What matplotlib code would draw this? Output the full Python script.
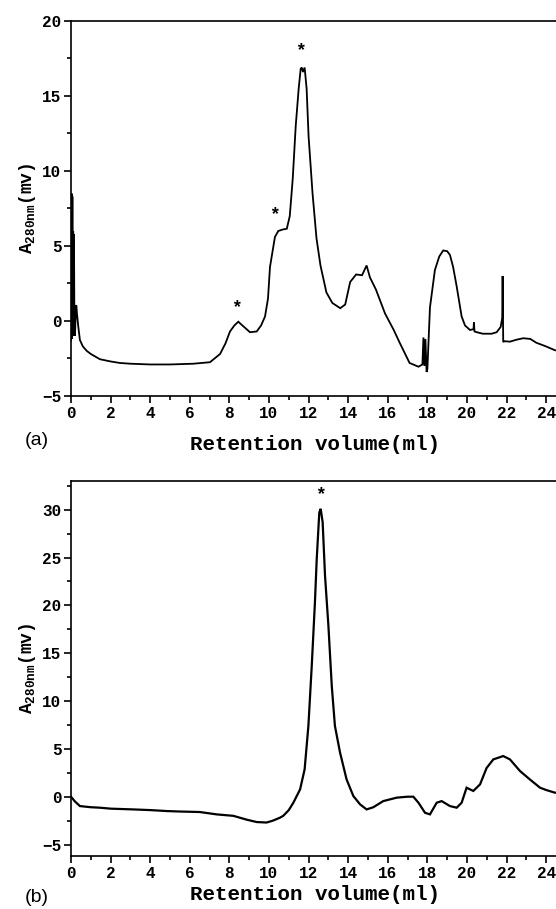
import numpy as np
import matplotlib
matplotlib.use('Agg')
import matplotlib.pyplot as plt
from matplotlib.ticker import MultipleLocator

# --- 字体设置 ---
plt.rcParams['font.family'] = ['Liberation Mono', 'DejaVu Sans']
plt.rcParams['mathtext.default'] = 'regular'

# --- 数据 (a) ---
vol_a = [0.0, 0.03, 0.05, 0.07, 0.09, 0.11, 0.13, 0.15, 0.17, 0.2, 0.25, 0.27, 0.3, 0.37,
         0.45, 0.6, 0.8, 1.0, 1.46, 2.0, 2.47, 3.0, 4.0, 5.0, 6.18, 6.6, 7.02, 7.53,
         7.8, 8.03, 8.25, 8.45, 8.7, 9.04, 9.38, 9.6, 9.8, 9.95, 10.05, 10.2, 10.3,
         10.47, 10.7, 10.9, 11.05, 11.2, 11.35, 11.5, 11.6, 11.65, 11.72, 11.8, 11.9,
         12.0, 12.2, 12.4, 12.6, 12.9, 13.2, 13.6, 13.85, 14.1, 14.4, 14.7, 14.93,
         15.1, 15.4, 15.86, 16.3, 16.6, 17.1, 17.55, 17.75, 17.8, 17.85, 17.9, 17.96,
         18.0, 18.13, 18.38, 18.6, 18.8, 19.0, 19.14, 19.3, 19.48, 19.73, 19.9, 20.15,
         20.33, 20.35, 20.38, 20.5, 20.8, 21.25, 21.5, 21.7, 21.78, 21.8, 21.83, 21.9,
         22.17, 22.5, 22.85, 23.2, 23.5, 24.0, 24.44, 24.7]
abs_a = [-1.3, 8.5, -1.2, 8.3, -1.0, 6.0, -0.5, 5.8, 0.3, -1.0, 1.0, 1.05, 0.5, -0.4,
         -1.27, -1.7, -2.0, -2.2, -2.55, -2.7, -2.8, -2.85, -2.9, -2.9, -2.85, -2.8,
         -2.75, -2.2, -1.5, -0.7, -0.3, -0.05, -0.35, -0.75, -0.7, -0.3, 0.3, 1.5,
         3.6, 4.8, 5.6, 6.0, 6.1, 6.15, 7.0, 9.5, 13.0, 15.5, 16.8, 16.9, 16.6, 16.9,
         15.5, 12.3, 8.5, 5.5, 3.7, 1.9, 1.2, 0.85, 1.1, 2.6, 3.1, 3.05, 3.7, 2.9, 2.1,
         0.5, -0.6, -1.45, -2.8, -3.05, -2.9, -1.1, -3.0, -1.2, -3.4, -3.2, 0.9, 3.4,
         4.3, 4.7, 4.65, 4.4, 3.6, 2.3, 0.3, -0.3, -0.6, -0.55, -0.1, -0.7, -0.75,
         -0.85, -0.85, -0.75, -0.4, 0.2, 3.0, -1.4, -1.35, -1.38, -1.25, -1.15, -1.2,
         -1.45, -1.7, -1.95, -2.0]

# --- 数据 (b) ---
vol_b = [0.0, 0.2, 0.45, 1.0, 1.46, 2.0, 3.15, 4.0, 4.83, 5.5, 6.5, 7.36, 8.2, 8.87,
         9.38, 9.88, 10.2, 10.55, 10.72, 11.0, 11.23, 11.57, 11.8, 11.99, 12.16,
         12.32, 12.41, 12.54, 12.61, 12.71, 12.83, 13.0, 13.17, 13.33, 13.59, 13.92,
         14.26, 14.6, 14.93, 15.27, 15.77, 16.45, 17.0, 17.29, 17.55, 17.88, 18.13,
         18.47, 18.72, 19.14, 19.48, 19.73, 19.98, 20.32, 20.66, 20.99, 21.33, 21.83,
         22.17, 22.68, 23.18, 23.69, 24.0, 24.44, 24.7]
abs_b = [0.0, -0.5, -0.98, -1.1, -1.15, -1.25, -1.33, -1.4, -1.5, -1.55, -1.6, -1.85,
         -2.0, -2.4, -2.65, -2.7, -2.5, -2.2, -2.0, -1.4, -0.63, 0.76, 2.86, 7.4,
         13.7, 20.3, 24.8, 29.7, 30.1, 28.7, 23.1, 17.9, 11.6, 7.4, 4.6, 1.8, 0.07,
         -0.8, -1.33, -1.1, -0.46, -0.1, 0.0, 0.0, -0.63, -1.68, -1.85, -0.63, -0.46,
         -0.98, -1.15, -0.63, 0.94, 0.6, 1.29, 3.0, 3.9, 4.25, 3.9, 2.68, 1.8, 0.94,
         0.7, 0.42, 0.4]

star_a_x = [8.37, 10.3, 11.6]
star_a_y = [0.9, 7.1, 18.0]
star_b_x = [12.62]
star_b_y = [31.6]

xticks = np.arange(0, 25, 2)

fig = plt.figure(figsize=(5.56, 9.09), dpi=100)
ax1 = fig.add_axes([0.1277, 0.5644, 0.876, 0.4125])
ax2 = fig.add_axes([0.1277, 0.0583, 0.876, 0.4125])

ylabel = r'A$_{\mathregular{280nm}}$(mv)'

panels = [
    (ax1, vol_a, abs_a, star_a_x, star_a_y, (-5, 20), '(a)', 10, -0.12),
    (ax2, vol_b, abs_b, star_b_x, star_b_y, (-6.2, 33.0), '(b)', 3, -0.11),
]
for ax, xs, ys, sx, sy, ylim, tag, xpad, tag_y in panels:
    ax.plot(xs, ys, color='black', lw=1.3 if ax is ax1 else 1.6, solid_joinstyle='miter')
    for a, b in zip(sx, sy):
        ax.text(a, b, '*', ha='center', va='center', fontsize=13, fontweight='bold')
    ax.set_xlim(0, 24.6)
    ax.set_ylim(*ylim)
    ax.set_xticks(xticks)
    ax.xaxis.set_minor_locator(MultipleLocator(1))
    ax.yaxis.set_major_locator(MultipleLocator(5))
    ax.yaxis.set_minor_locator(MultipleLocator(2.5))
    ax.tick_params(which='major', direction='out', length=5, width=1.2, labelsize=11.5, pad=2)
    ax.tick_params(which='minor', direction='out', length=3, width=1.2)
    for lab in ax.get_xticklabels() + ax.get_yticklabels():
        lab.set_fontweight('bold')
    for s in ax.spines.values():
        s.set_linewidth(1.2)
    ax.set_xlabel('Retention volume(ml)', fontsize=15, fontweight='bold', labelpad=xpad)
    ax.set_ylabel(ylabel, fontsize=13, fontweight='bold', labelpad=3)
    ax.text(-0.094, tag_y, tag, transform=ax.transAxes, fontsize=14,
            family='Liberation Sans', ha='left', va='center')

fig.savefig('out.png', dpi=100)
